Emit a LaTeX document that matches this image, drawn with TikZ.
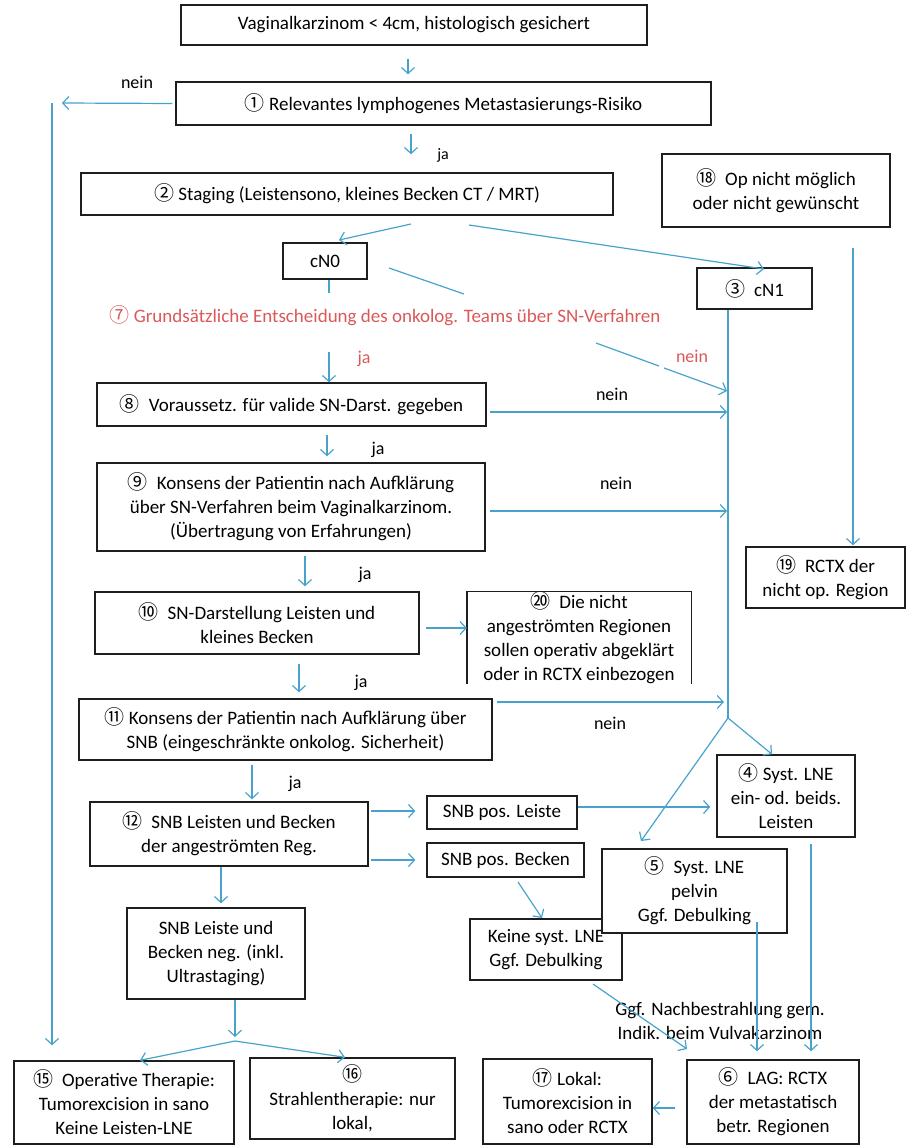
\documentclass[tikz,border=0pt]{standalone}
\usepackage{fontspec}
\setmainfont{Carlito}
\newfontfamily\circf{Noto Sans CJK SC}
\usetikzlibrary{arrows.meta}
\definecolor{arrowc}{RGB}{72,163,204}
\definecolor{redc}{RGB}{218,88,88}
\definecolor{boxc}{RGB}{30,30,30}
\newcommand\cnum[1]{{\circf\fontsize{20}{24}\selectfont #1}}
\newcommand\gap{\hspace{9pt}}
\newcommand\bx[6]{\node[box, minimum width={(#4-#2)*1pt}, minimum height={(#5-#3)*1pt}] (#1) at ({(#2+#4)/2},{(#3+#5)/2}) {#6};}
\begin{document}
\begin{tikzpicture}[x=1pt,y=-1pt,
  every node/.style={font=\fontsize{19}{24}\selectfont, align=center, inner sep=0pt},
  box/.style={draw=boxc, line width=1.4pt, fill=white},
  boxline/.style={draw=boxc, line width=1.4pt},
  arr/.style={draw=arrowc, line width=1.2pt, -{Straight Barb[length=6pt,width=13pt]}},
  ln/.style={draw=arrowc, line width=1.2pt},
  lbl/.style={font=\fontsize{18}{22}\selectfont},
  redlbl/.style={lbl, text=redc}]
\useasboundingbox (0,0) rectangle (907,1146);

% ---------- boxes ----------
\bx{b0}{181}{5}{647}{45}{Vaginalkarzinom < 4cm, histologisch gesichert}
\bx{b1}{176}{82}{711}{125}{\cnum{①} Relevantes lymphogenes Metastasierungs-Risiko}
\bx{b2}{81}{173}{613}{215}{\cnum{②} Staging (Leistensono, kleines Becken CT / MRT)}
\bx{b18}{662}{154}{890}{227}{\cnum{⑱}\gap Op nicht möglich\\oder nicht gewünscht}
\bx{cN0}{283}{243}{367}{279}{cN0}
\bx{cN1}{697}{268}{812}{309}{\cnum{③}\gap cN1}
\node[text=redc] (t7) at (385,316) {\cnum{⑦} Grundsätzliche Entscheidung des onkolog. Teams über SN-Verfahren};
\bx{b8}{97}{383}{486}{426}{\cnum{⑧}\gap Voraussetz. für valide SN-Darst. gegeben}
\bx{b9}{97}{463}{485}{551}{\cnum{⑨}\gap Konsens der Patientin nach Aufklärung\\über SN-Verfahren beim Vaginalkarzinom.\\(Übertragung von Erfahrungen)}
\bx{b10}{95}{592}{419}{654}{\cnum{⑩}\gap SN-Darstellung Leisten und\\kleines Becken}
\node[minimum width=224pt, minimum height=91pt] (b20) at (579,637.5) {\cnum{⑳}\gap Die nicht\\angeströmten Regionen\\sollen operativ abgeklärt\\oder in RCTX einbezogen};
\draw[boxline] (b20.south west) |- (b20.north east) -- (b20.south east);
\bx{b19}{746}{547}{905}{608}{\cnum{⑲}\gap RCTX der\\nicht op. Region}
\bx{b11}{79}{699}{492}{760}{\cnum{⑪} Konsens der Patientin nach Aufklärung über\\SNB (eingeschränkte onkolog. Sicherheit)}
\bx{b12}{90}{802}{368}{866}{\cnum{⑫}\gap SNB Leisten und Becken\\der angeströmten Reg.}
\bx{leiste}{427}{796}{577}{829}{SNB pos. Leiste}
\bx{becken}{427}{843}{584}{877}{SNB pos. Becken}
\bx{b4}{717}{755}{855}{837}{\cnum{④} Syst. LNE\\ein- od. beids.\\Leisten}
\bx{keine}{470}{919}{622}{980}{Keine syst. LNE\\Ggf. Debulking}
\bx{b5}{602}{849}{787}{933}{\cnum{⑤}\gap Syst. LNE\\pelvin\\Ggf. Debulking}
\bx{neg}{127}{908}{305}{999}{SNB Leiste und\\Becken neg. (inkl.\\Ultrastaging)}
\bx{b15}{14}{1061}{234}{1144}{\cnum{⑮}\gap Operative Therapie:\\Tumorexcision in sano\\Keine Leisten-LNE}
\bx{b16}{250}{1058}{455}{1139}{\cnum{⑯}\\Strahlentherapie: nur\\lokal,}
\bx{b17}{483}{1059}{652}{1144}{\cnum{⑰} Lokal:\\Tumorexcision in\\sano oder RCTX}
\bx{b6}{687}{1060}{859}{1144}{\cnum{⑥}\gap LAG: RCTX\\der metastatisch\\betr. Regionen}

% ---------- labels ----------
\node[lbl] (l1) at (137,82) {nein};
\node[lbl, font=\fontsize{16}{20}\selectfont] (l2) at (443,155) {ja};
\node[redlbl] (l3) at (364,359) {ja};
\node[redlbl] (l4) at (692,356) {nein};
\node[lbl] (l5) at (612,394) {nein};
\node[lbl] (l6) at (378,450) {ja};
\node[lbl] (l7) at (616,483) {nein};
\node[lbl] (l8) at (365,575) {ja};
\node[lbl] (l9) at (361,683) {ja};
\node[lbl] (l10) at (610,723) {nein};
\node[lbl] (l11) at (295,784) {ja};
\node (nach) at (720,1021) {Ggf. Nachbestrahlung gem.\\Indik. beim Vulvakarzinom};

% ---------- coordinates ----------
\coordinate (vtop) at (52,103);
\coordinate (nL) at (62,103);
\coordinate (s2a) at (411,224);
\coordinate (e2a) at (339,240);
\coordinate (s2b) at (469,225);
\coordinate (e2b) at (764,269);
\coordinate (c0a) at (329,293);
\coordinate (c0b) at (389,268);
\coordinate (c0c) at (464,294);
\coordinate (r1) at (596,343);
\coordinate (r2) at (659,366);
\coordinate (r3) at (664,368);
\coordinate (r4) at (727,391);
\coordinate (j8) at (727,412);
\coordinate (j9) at (727,511);
\coordinate (j11) at (724,702);
\coordinate (br) at (728,718);
\coordinate (t5) at (641,841);
\coordinate (kA) at (593,984);
\coordinate (kB) at (687,1049);
\coordinate (bA) at (518,882);
\coordinate (bB) at (542,918);
\coordinate (split) at (235,1041);
\coordinate (d5) at (757,922);

% ---------- connectors ----------
\draw[arr, shorten <=13pt, shorten >=7pt] (408,0 |- b0.south) -- (408,0 |- b1.north);
\draw[arr, shorten <=3pt] (b1.west) -- (nL);
\draw[arr, shorten >=15pt] (vtop) -- (52,0 |- b15.north);
\draw[arr, shorten <=8pt, shorten >=18pt] (411,0 |- b1.south) -- (411,0 |- b2.north);
\draw[arr] (s2a) -- (e2a);
\draw[arr] (s2b) -- (e2b);
\draw[ln] (329,0 |- cN0.south) -- (c0a);
\draw[ln] (c0b) -- (c0c);
\draw[arr, shorten <=26pt] (329,0 |- t7.south) -- (329,0 |- b8.north);
\draw[ln] (r1) -- (r2);
\draw[arr] (r3) -- (r4);
\draw[ln] (728,0 |- cN1.south) -- (br);
\draw[arr, shorten <=3pt] (b8.east |- j8) -- (j8);
\draw[arr, shorten <=8pt, shorten >=6pt] (327,0 |- b8.south) -- (327,0 |- b9.north);
\draw[arr, shorten <=4pt] (b9.east |- j9) -- (j9);
\draw[arr, shorten <=4pt, shorten >=5pt] (305,0 |- b9.south) -- (305,0 |- b10.north);
\draw[arr, shorten <=6pt] (b10.east |- 0,628) -- (b20.west |- 0,628);
\draw[arr, shorten <=9pt, shorten >=6pt] (299,0 |- b10.south) -- (299,0 |- b11.north);
\draw[arr, shorten <=4pt] (b11.east |- j11) -- (j11);
\draw[arr, shorten <=4pt, shorten >=2pt] (252,0 |- b11.south) -- (252,0 |- b12.north);
\draw[arr, shorten <=2pt, shorten >=11pt] (b12.east |- 0,811) -- (leiste.west |- 0,811);
\draw[arr, shorten <=2pt, shorten >=11pt] (b12.east |- 0,860) -- (becken.west |- 0,860);
\draw[arr, shorten >=6pt] (leiste.east |- 0,807) -- (b4.west |- 0,807);
\draw[arr] (bA) -- (bB);
\draw[arr] (br) -- (772,0 |- b4.north);
\draw[arr] (br) -- (t5);
\draw[arr, shorten <=20pt, shorten >=1pt] (853,0 |- b18.south) -- (853,0 |- b19.north);
\draw[arr, shorten <=6pt, shorten >=8pt] (811,0 |- b4.south) -- (811,0 |- b6.north);
\draw[arr, shorten >=8pt] (d5) -- (757,0 |- b6.north);
\draw[arr] (kA) -- (kB);
\draw[arr, shorten <=11pt] (b6.west |- 0,1108) -- (b17.east |- 0,1108);
\draw[arr, shorten >=4pt] (221,0 |- b12.south) -- (221,0 |- neg.north);
\draw[arr, shorten >=4pt] (235,0 |- neg.south) -- (split);
\draw[arr] (split) -- (140,0 |- b15.north);
\draw[arr] (split) -- (345,0 |- b16.north);
\end{tikzpicture}
\end{document}
